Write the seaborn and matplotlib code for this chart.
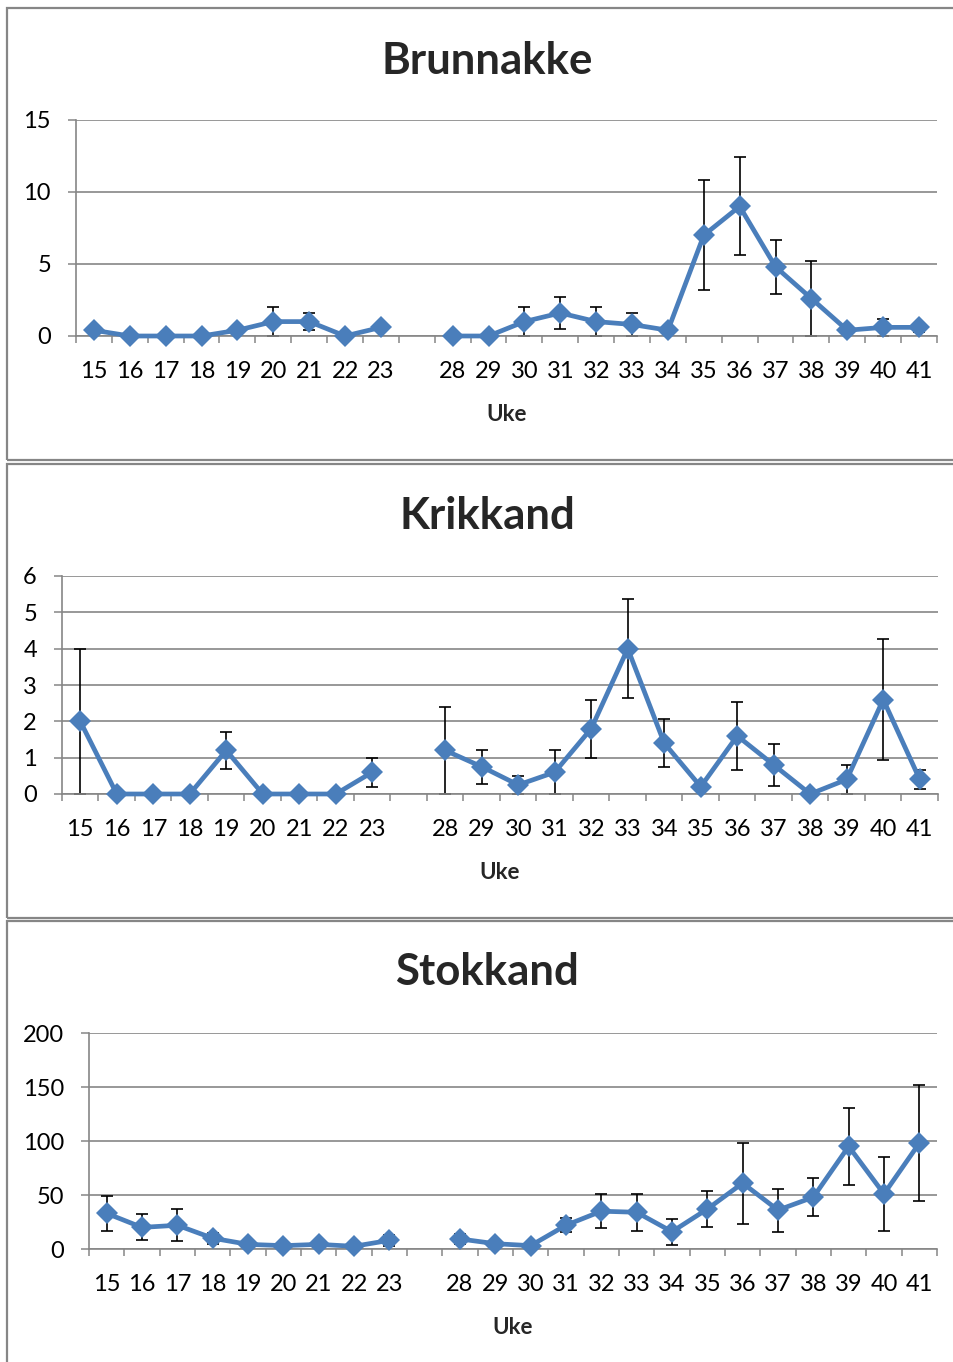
import numpy as np
import pandas as pd
import matplotlib
matplotlib.use("Agg")
import matplotlib.pyplot as plt
import seaborn as sns
from matplotlib.patches import Rectangle

# ---------------- data ----------------
weeks = ["15", "16", "17", "18", "19", "20", "21", "22", "23", "",
         "28", "29", "30", "31", "32", "33", "34", "35", "36", "37", "38", "39", "40", "41"]
nan = np.nan

brunnakke_mean = [0.4, 0, 0, 0, 0.4, 1.0, 1.0, 0, 0.6, nan,
                  0, 0, 1.0, 1.6, 1.0, 0.8, 0.4, 7.0, 9.0, 4.8, 2.6, 0.4, 0.6, 0.6]
brunnakke_err = [0.2, 0, 0, 0, 0.2, 1.0, 0.6, 0, 0.2, nan,
                 0, 0, 1.0, 1.1, 1.0, 0.8, 0.15, 3.8, 3.4, 1.9, 2.6, 0.15, 0.6, 0.3]

krikkand_mean = [2.0, 0, 0, 0, 1.2, 0, 0, 0, 0.6, nan,
                 1.2, 0.75, 0.25, 0.6, 1.8, 4.0, 1.4, 0.2, 1.6, 0.8, 0, 0.4, 2.6, 0.4]
krikkand_err = [2.0, 0, 0, 0, 0.5, 0, 0, 0, 0.4, nan,
                1.2, 0.47, 0.25, 0.6, 0.8, 1.37, 0.67, 0, 0.93, 0.58, 0, 0.4, 1.66, 0.25]

stokkand_mean = [33, 20, 22, 10, 4.3, 3.1, 4.3, 2.5, 8, nan,
                 9.3, 4.9, 3.1, 22, 35, 34, 16, 37, 61, 36, 48, 95, 51, 98]
stokkand_err = [16, 12, 15, 5, 0, 0, 0, 0, 5, nan,
                5, 0, 0, 6.5, 16, 17, 12, 16.5, 37.5, 20, 17.5, 36, 34, 54]

titles = ["Brunnakke", "Krikkand", "Stokkand"]
xlabel = "Uke"
y_ticks = [[0, 5, 10, 15], [0, 1, 2, 3, 4, 5, 6], [0, 50, 100, 150, 200]]

# ---------------- style ----------------
sns.set_style("white")
plt.rcParams["font.family"] = ["Lato", "DejaVu Sans"]

LINE = "#4A7EBB"
GRID = "#868686"

W, H = 954, 1362
fig = plt.figure(figsize=(W / 100, H / 100), dpi=100)

# axes rectangles in pixels: left, right, top, bottom
ax_px = [(76, 937, 120, 336), (62, 938, 576, 794), (89, 937, 1033, 1249)]
title_y = [61, 516, 972]
frames = [(8, 460), (464, 918), (921, 1400)]

series = [(brunnakke_mean, brunnakke_err), (krikkand_mean, krikkand_err),
          (stokkand_mean, stokkand_err)]

for i, ((m, e), (l, r, t, b)) in enumerate(zip(series, ax_px)):
    # frame around each chart
    ft, fb = frames[i]
    fig.patches.append(Rectangle((7 / W, 1 - fb / H), 1.2, (fb - ft) / H,
                                 transform=fig.transFigure, fill=False,
                                 edgecolor=GRID, linewidth=1.6, clip_on=False))

    ax = fig.add_axes([l / W, 1 - b / H, (r - l) / W, (b - t) / H])
    pos = np.arange(len(weeks))
    seg = [0 if k < 9 else 1 for k in range(len(weeks))]
    df = pd.DataFrame({"pos": pos, "mean": m, "err": e, "seg": seg})

    ax.errorbar(df["pos"], df["mean"], yerr=df["err"], fmt="none",
                ecolor="black", elinewidth=1.2, capsize=4, capthick=1.2,
                zorder=2, clip_on=False)
    sns.lineplot(data=df, x="pos", y="mean", units="seg", estimator=None,
                 color=LINE, linewidth=3.4, marker="D", markersize=11,
                 markeredgewidth=0, ax=ax, zorder=3, clip_on=False)

    ax.set_xlim(-0.5, len(weeks) - 0.5)
    ax.set_ylim(y_ticks[i][0], y_ticks[i][-1])
    ax.set_yticks(y_ticks[i])
    ax.set_xticks(pos)
    ax.set_xticklabels(weeks)
    ax.set_xticks(np.arange(-0.5, len(weeks), 1), minor=True)
    ax.tick_params(axis="x", which="major", length=0, pad=18, labelsize=17,
                   colors="black")
    ax.tick_params(axis="x", which="minor", length=5, width=1.1, color=GRID,
                   direction="out", bottom=True)
    ax.tick_params(axis="y", which="major", length=6, width=1.1, color=GRID,
                   direction="out", left=True, pad=12, labelsize=17,
                   labelcolor="black")
    ax.grid(axis="y", color=GRID, linewidth=1.2)
    ax.grid(axis="x", visible=False)
    ax.set_axisbelow(True)
    for s in ["top", "right"]:
        ax.spines[s].set_visible(False)
    for s in ["left", "bottom"]:
        ax.spines[s].set_color(GRID)
        ax.spines[s].set_linewidth(1.2)
    ax.set_ylabel("")
    ax.set_xlabel(xlabel, fontsize=16, fontweight="bold", labelpad=16)

    fig.text(487 / W, 1 - title_y[i] / H, titles[i], ha="center", va="center",
             fontsize=31.5, fontweight="bold")

fig.savefig("out.png", dpi=100)
